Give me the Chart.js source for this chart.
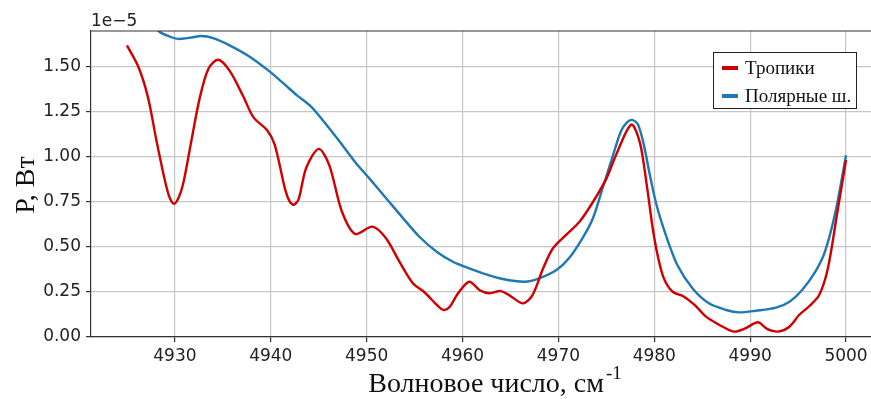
<!DOCTYPE html>
<html>
<head>
<meta charset="utf-8">
<script src="https://cdn.jsdelivr.net/npm/chart.js@4"></script>
<style>
    html, body { margin: 0; padding: 0; background: #fff; overflow: hidden; }
    #chart { display: block; }
</style>
</head>
<body>
<canvas id="chart" width="900" height="399"></canvas>
<script>
// values in units of 1e-5 W
const tropicsWave = [4925, 4926.2, 4927.2, 4928.1, 4929.0, 4929.45, 4929.9, 4930.4, 4930.9, 4931.7, 4932.6, 4933.5,
    4934.5, 4935.7, 4937.1, 4938.2, 4939.6, 4940.4, 4941.5, 4941.95, 4942.4, 4942.9, 4943.7, 4945.0, 4946.1,
    4947.4, 4948.8, 4950.6, 4952.0, 4953.4, 4954.8, 4956.0, 4957.1, 4957.65, 4958.1, 4958.7, 4959.5, 4960.7,
    4961.8, 4962.8, 4964.0, 4965.1, 4966.3, 4967.3, 4968.4, 4969.4, 4970.8, 4972.2, 4973.6, 4975.0, 4976.0,
    4977.6, 4978.5, 4979.2, 4980.0, 4980.9, 4981.9, 4983.1, 4984.2, 4985.4, 4986.8, 4988.3, 4989.5, 4990.8,
    4991.8, 4992.9, 4994.1, 4995.1, 4996.1, 4997.2, 4998.1, 4999.1, 5000.0];
const tropicsPower = [1.62, 1.50, 1.33, 1.085, 0.86, 0.775, 0.74, 0.775, 0.86, 1.085, 1.33, 1.49,
    1.54, 1.48, 1.34, 1.22, 1.15, 1.07, 0.82, 0.755, 0.735, 0.765, 0.94, 1.045, 0.955,
    0.70, 0.572, 0.613, 0.55, 0.42, 0.30, 0.25, 0.19, 0.162, 0.15, 0.17, 0.24, 0.307,
    0.26, 0.243, 0.255, 0.224, 0.187, 0.233, 0.38, 0.49, 0.567, 0.64, 0.75, 0.88, 1.01,
    1.18, 1.08, 0.85, 0.55, 0.34, 0.252, 0.224, 0.178, 0.113, 0.067, 0.03, 0.048, 0.082,
    0.044, 0.03, 0.057, 0.122, 0.168, 0.233, 0.38, 0.696, 0.983];

const polarWave = [4925, 4926.8, 4928.3, 4929.5, 4930.3, 4931.6, 4932.8, 4934.0, 4935.7, 4937.8, 4939.9, 4941.3,
    4942.7, 4944.2, 4945.4, 4947.2, 4948.9, 4950.3, 4952.05, 4953.8, 4955.5, 4957.3, 4959.0, 4960.5,
    4962.1, 4964.2, 4966.5, 4968.0, 4969.8, 4971.1, 4972.5, 4973.6, 4974.6, 4975.7, 4976.5, 4977.1, 4977.7,
    4978.3, 4978.9, 4979.5, 4980.2, 4981.2, 4982.4, 4984.0, 4985.7, 4987.5, 4988.85, 4990.6, 4992.7, 4994.1,
    4995.4, 4996.8, 4997.8, 4998.9, 5000.0];
const polarPower = [1.95, 1.80, 1.70, 1.668, 1.656, 1.663, 1.672, 1.66, 1.62, 1.557, 1.474, 1.41,
    1.344, 1.28, 1.206, 1.085, 0.965, 0.88, 0.77, 0.66, 0.557, 0.474, 0.418, 0.385,
    0.354, 0.322, 0.307, 0.326, 0.372, 0.437, 0.548, 0.66, 0.826, 1.01, 1.14, 1.19, 1.206,
    1.18, 1.07, 0.91, 0.74, 0.567, 0.40, 0.27, 0.187, 0.15, 0.137, 0.146, 0.163, 0.196,
    0.26, 0.363, 0.474, 0.696, 1.01];

const xTicks = [4930, 4940, 4950, 4960, 4970, 4980, 4990, 5000];
const yTicks = [0, 0.25, 0.5, 0.75, 1.0, 1.25, 1.5];
const seriesLabels = ['Тропики', 'Полярные ш.'];
const seriesColors = ['#d00000', '#1f77b4'];

const tickFont = { family: 'DejaVu Sans', size: 17 };
const serif = '"Liberation Serif", "DejaVu Serif", serif';

function toPoints(xs, ys) {
    return xs.map((x, i) => ({ x, y: ys[i] }));
}

// spine on top, offset text, axis titles and a matplotlib-like legend
const decorations = {
    id: 'decorations',
    afterDraw(chart) {
        const { ctx, chartArea } = chart;
        ctx.save();

        ctx.strokeStyle = '#333';
        ctx.lineWidth = 1.2;
        ctx.beginPath();
        ctx.moveTo(chartArea.left, chartArea.top);
        ctx.lineTo(chartArea.right, chartArea.top);
        ctx.stroke();

        ctx.fillStyle = '#222';
        ctx.font = '17px "DejaVu Sans"';
        ctx.textAlign = 'left';
        ctx.textBaseline = 'alphabetic';
        ctx.fillText('1e\u22125', chartArea.left, 26);

        // x title with superscript
        ctx.fillStyle = '#111';
        ctx.font = '28px ' + serif;
        const main = 'Волновое число, см';
        const sup = '-1';
        const mainW = ctx.measureText(main).width;
        ctx.font = '19px ' + serif;
        const supW = ctx.measureText(sup).width;
        const startX = 494 - (mainW + supW) / 2;
        ctx.font = '28px ' + serif;
        ctx.fillText(main, startX, 392);
        ctx.font = '19px ' + serif;
        ctx.fillText(sup, startX + mainW + 2, 379);

        // y title
        ctx.save();
        ctx.translate(34, 185);
        ctx.rotate(-Math.PI / 2);
        ctx.font = '28px ' + serif;
        ctx.textAlign = 'center';
        ctx.fillText('P, Вт', 0, 0);
        ctx.restore();

        // legend
        const box = { x: 713.5, y: 52.5, w: 143, h: 56 };
        ctx.fillStyle = '#fff';
        ctx.fillRect(box.x, box.y, box.w, box.h);
        ctx.strokeStyle = '#222';
        ctx.lineWidth = 1;
        ctx.strokeRect(box.x, box.y, box.w, box.h);
        ctx.font = '19px ' + serif;
        ctx.textBaseline = 'middle';
        seriesLabels.forEach((label, i) => {
            const cy = 68 + i * 28;
            ctx.strokeStyle = seriesColors[i];
            ctx.lineWidth = 4;
            ctx.beginPath();
            ctx.moveTo(722, cy);
            ctx.lineTo(738, cy);
            ctx.stroke();
            ctx.fillStyle = '#111';
            ctx.fillText(label, 745, cy + 1);
        });

        ctx.restore();
    }
};

const datasets = [
    { label: seriesLabels[0], data: toPoints(tropicsWave, tropicsPower), borderColor: seriesColors[0] },
    { label: seriesLabels[1], data: toPoints(polarWave, polarPower), borderColor: seriesColors[1] }
].map(d => ({
    ...d,
    borderWidth: 2.4,
    pointRadius: 0,
    fill: false,
    tension: 0.3
}));

new Chart(document.getElementById('chart').getContext('2d'), {
    type: 'line',
    data: { datasets },
    options: {
        responsive: false,
        animation: false,
        layout: { padding: { left: 0, top: 31, right: 18, bottom: 0 } },
        plugins: {
            legend: { display: false },
            tooltip: { enabled: false }
        },
        scales: {
            x: {
                type: 'linear',
                min: 4921.25,
                max: 5003.75,
                afterBuildTicks: scale => { scale.ticks = xTicks.map(v => ({ value: v })); },
                afterFit: scale => { scale.height = 62; },
                ticks: {
                    font: tickFont,
                    color: '#222',
                    padding: 4,
                    maxRotation: 0,
                    callback: v => String(v)
                },
                grid: { color: '#c6c6c6', lineWidth: 1.2, tickColor: '#333', tickLength: 5 },
                border: { color: '#333', width: 1.2 }
            },
            y: {
                min: 0,
                max: 1.7,
                afterBuildTicks: scale => { scale.ticks = yTicks.map(v => ({ value: v })); },
                afterFit: scale => { scale.width = 91; },
                ticks: {
                    font: tickFont,
                    color: '#222',
                    padding: 5,
                    callback: v => v.toFixed(2)
                },
                grid: { color: '#c6c6c6', lineWidth: 1.2, tickColor: '#333', tickLength: 5 },
                border: { color: '#333', width: 1.2 }
            }
        }
    },
    plugins: [decorations]
});
</script>
</body>
</html>
